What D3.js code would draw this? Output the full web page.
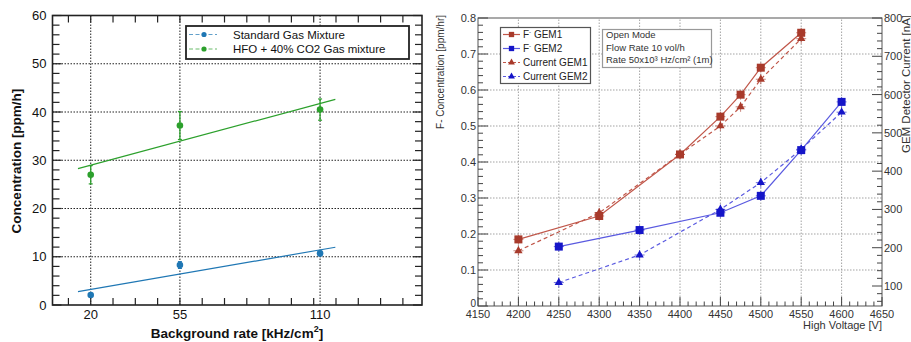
<!DOCTYPE html>
<html>
<head>
<meta charset="utf-8">
<script src="https://cdn.jsdelivr.net/npm/d3@7"></script>
<style>
  body { margin: 0; background: #fff; }
  svg { display: block; font-family: "Liberation Sans", Arial, Helvetica, sans-serif; }
</style>
</head>
<body>
<svg id="chart" width="911" height="342"></svg>
<script>
// ---- left panel data ----
var rateCats = [20, 55, 110];
var stdConc = [2.07, 8.28, 10.7];
var stdErr = [0.3, 0.7, 0.5];
var hfoConc = [27.0, 37.2, 40.5];
var hfoErr = [1.9, 2.9, 2.2];
var leftSeriesNames = ['Standard Gas Mixture', 'HFO + 40% CO2 Gas mixture'];
var leftYTicks = [0, 10, 20, 30, 40, 50, 60];

// ---- right panel data ----
var hvGem1 = [4200, 4300, 4400, 4450, 4475, 4500, 4550];
var fGem1 = [0.185, 0.25, 0.421, 0.526, 0.587, 0.662, 0.759];
var curGem1 = [192, 291, 444, 518, 568, 640, 746];
var hvGem2 = [4250, 4350, 4450, 4500, 4550, 4600];
var fGem2 = [0.165, 0.211, 0.259, 0.306, 0.433, 0.567];
var curGem2 = [109, 181, 300, 370, 457, 554];
var rightSeriesNames = ['GEM1', 'GEM2', 'Current GEM1', 'Current GEM2'];
var infoLines = ['Open Mode', 'Flow Rate 10 vol/h', 'Rate 50x10\u00b3 Hz/cm\u00b2 (1m)'];
var hvTicks = [4150, 4200, 4250, 4300, 4350, 4400, 4450, 4500, 4550, 4600, 4650];

var svg = d3.select('#chart');

// ===================== LEFT PANEL =====================
(function() {
	var blue = '#1f77b4', green = '#2ca02c';
	var x = d3.scaleLinear().domain([5, 150]).range([52.5, 422]);
	var y = d3.scaleLinear().domain([0, 60]).range([305, 15.5]);
	var g = svg.append('g');

	// grid
	g.selectAll('.gy').data(leftYTicks.slice(1, -1)).enter().append('line')
		.attr('x1', x.range()[0]).attr('x2', x.range()[1])
		.attr('y1', function(d) { return y(d); }).attr('y2', function(d) { return y(d); })
		.attr('stroke', '#222').attr('stroke-width', 1).attr('stroke-dasharray', '1.5,1.5');
	g.selectAll('.gx').data(rateCats).enter().append('line')
		.attr('y1', y.range()[0]).attr('y2', y.range()[1])
		.attr('x1', function(d) { return x(d); }).attr('x2', function(d) { return x(d); })
		.attr('stroke', '#222').attr('stroke-width', 1).attr('stroke-dasharray', '1.5,1.5');

	// ticks (inward, all four sides)
	var yMinor = d3.range(0, 61, 2);
	var xMinor = d3.range(11.25, 150, 8.75);
	var tickColor = '#222';
	yMinor.forEach(function(v) {
		var len = v % 10 === 0 ? 9 : 7;
		g.append('line').attr('x1', x.range()[0]).attr('x2', x.range()[0] + len)
			.attr('y1', y(v)).attr('y2', y(v)).attr('stroke', tickColor).attr('stroke-width', 1.2);
		g.append('line').attr('x1', x.range()[1]).attr('x2', x.range()[1] - len)
			.attr('y1', y(v)).attr('y2', y(v)).attr('stroke', tickColor).attr('stroke-width', 1.2);
	});
	xMinor.forEach(function(v) {
		g.append('line').attr('x1', x(v)).attr('x2', x(v))
			.attr('y1', y.range()[0]).attr('y2', y.range()[0] - 7).attr('stroke', tickColor).attr('stroke-width', 1.2);
		g.append('line').attr('x1', x(v)).attr('x2', x(v))
			.attr('y1', y.range()[1]).attr('y2', y.range()[1] + 7).attr('stroke', tickColor).attr('stroke-width', 1.2);
	});

	// frame
	g.append('rect').attr('x', x.range()[0]).attr('y', y.range()[1])
		.attr('width', x.range()[1] - x.range()[0]).attr('height', y.range()[0] - y.range()[1])
		.attr('fill', 'none').attr('stroke', '#222').attr('stroke-width', 1.6);

	// tick labels
	g.selectAll('.yl').data(leftYTicks).enter().append('text')
		.attr('x', 46.5).attr('y', function(d) { return y(d); })
		.attr('dy', '0.36em').attr('text-anchor', 'end')
		.attr('font-size', 13).attr('fill', '#111').text(function(d) { return d; });
	g.selectAll('.xl').data(rateCats).enter().append('text')
		.attr('x', function(d) { return x(d); }).attr('y', 319)
		.attr('text-anchor', 'middle').attr('font-size', 13).attr('fill', '#111')
		.text(function(d) { return d; });

	// axis titles
	var xt = g.append('text').attr('x', 237).attr('y', 338).attr('text-anchor', 'middle')
		.attr('font-size', 13.5).attr('font-weight', 'bold').attr('fill', '#111');
	xt.append('tspan').text('Background rate [kHz/cm');
	xt.append('tspan').attr('font-size', 9).attr('dy', -6).text('2');
	xt.append('tspan').attr('dy', 6).text(']');
	g.append('text').attr('transform', 'translate(21,161) rotate(-90)')
		.attr('text-anchor', 'middle').attr('font-size', 13.5).attr('font-weight', 'bold')
		.attr('fill', '#111').text('Concentration [ppm/h]');

	// fits (least squares on the data) and points
	function fit(xs, ys) {
		var mx = d3.mean(xs), my = d3.mean(ys);
		var sxy = d3.sum(xs, function(v, i) { return (v - mx) * (ys[i] - my); });
		var sxx = d3.sum(xs, function(v) { return (v - mx) * (v - mx); });
		var b = sxy / sxx;
		return { slope: b, intercept: my - b * mx };
	}
	var series = [
		{ vals: stdConc, err: stdErr, color: blue },
		{ vals: hfoConc, err: hfoErr, color: green }
	];
	series.forEach(function(s) {
		var f = fit(rateCats, s.vals);
		g.append('line')
			.attr('x1', x(15)).attr('y1', y(f.intercept + f.slope * 15))
			.attr('x2', x(116)).attr('y2', y(f.intercept + f.slope * 116))
			.attr('stroke', s.color).attr('stroke-width', 1.2);
		rateCats.forEach(function(c, i) {
			var v = s.vals[i], e = s.err[i];
			g.append('line').attr('x1', x(c)).attr('x2', x(c))
				.attr('y1', y(v - e)).attr('y2', y(v + e)).attr('stroke', s.color).attr('stroke-width', 1.3);
			[v - e, v + e].forEach(function(w) {
				g.append('line').attr('x1', x(c) - 2).attr('x2', x(c) + 2)
					.attr('y1', y(w)).attr('y2', y(w)).attr('stroke', s.color).attr('stroke-width', 1.2);
			});
			g.append('circle').attr('cx', x(c)).attr('cy', y(v)).attr('r', 3.3).attr('fill', s.color);
		});
	});

	// legend
	var lg = g.append('g');
	lg.append('rect').attr('x', 186).attr('y', 26).attr('width', 223).attr('height', 33)
		.attr('fill', '#fff').attr('stroke', '#222').attr('stroke-width', 1.8);
	[blue, green].forEach(function(c, i) {
		var yy = 34.5 + i * 14.5;
		lg.append('line').attr('x1', 189).attr('x2', 217).attr('y1', yy).attr('y2', yy)
			.attr('stroke', c).attr('stroke-opacity', 0.7).attr('stroke-width', 1.2).attr('stroke-dasharray', '4,2.5');
		lg.append('circle').attr('cx', 204).attr('cy', yy).attr('r', 2.6).attr('fill', c);
		lg.append('text').attr('x', 233).attr('y', yy).attr('dy', '0.36em')
			.attr('font-size', 11.5).attr('fill', '#111').text(leftSeriesNames[i]);
	});
})();

// ===================== RIGHT PANEL =====================
(function() {
	var red = '#a83a2b', redLine = '#c0574a', navy = '#1515c8', blueLine = '#5a5ae0';
	var x = d3.scaleLinear().domain([4150, 4650]).range([478, 882]);
	var y = d3.scaleLinear().domain([0, 0.8]).range([306, 18]);
	var y2 = d3.scaleLinear().domain([100, 800]).range([286, 18]);
	var g = svg.append('g');
	var textCol = '#333';

	// grid
	g.selectAll('.gx').data(hvTicks.slice(1, -1)).enter().append('line')
		.attr('x1', function(d) { return x(d); }).attr('x2', function(d) { return x(d); })
		.attr('y1', y(0)).attr('y2', y(0.8))
		.attr('stroke', '#999').attr('stroke-width', 0.9).attr('stroke-dasharray', '1.5,1.5');
	g.selectAll('.gy').data(d3.range(1, 8).map(function(k) { return k / 10; })).enter().append('line')
		.attr('x1', x(4150)).attr('x2', x(4650))
		.attr('y1', function(d) { return y(d); }).attr('y2', function(d) { return y(d); })
		.attr('stroke', '#999').attr('stroke-width', 0.9).attr('stroke-dasharray', '1.5,1.5');

	// frame
	g.append('rect').attr('x', x(4150)).attr('y', y(0.8))
		.attr('width', x(4650) - x(4150)).attr('height', y(0) - y(0.8))
		.attr('fill', 'none').attr('stroke', '#555').attr('stroke-width', 1);

	// left axis ticks
	d3.range(0, 41).forEach(function(k) {
		var v = k * 0.02, len = k % 5 === 0 ? 10 : 5;
		g.append('line').attr('x1', x(4150)).attr('x2', x(4150) + len)
			.attr('y1', y(v)).attr('y2', y(v)).attr('stroke', '#444').attr('stroke-width', 1);
	});
	// right axis ticks
	d3.range(60, 801, 20).forEach(function(v) {
		var len = v % 100 === 0 ? 10 : 5;
		g.append('line').attr('x1', x(4650)).attr('x2', x(4650) - len)
			.attr('y1', y2(v)).attr('y2', y2(v)).attr('stroke', '#444').attr('stroke-width', 1);
	});
	// bottom ticks
	d3.range(4150, 4651, 10).forEach(function(v) {
		var len = v % 50 === 0 ? 9 : 4.5;
		g.append('line').attr('x1', x(v)).attr('x2', x(v))
			.attr('y1', y(0)).attr('y2', y(0) - len).attr('stroke', '#444').attr('stroke-width', 1);
	});

	// tick labels
	g.selectAll('.yl').data(d3.range(0, 9).map(function(k) { return k / 10; })).enter().append('text')
		.attr('x', 476).attr('y', function(d) { return d === 0 ? y(d) - 3 : y(d); }).attr('dy', '0.36em')
		.attr('text-anchor', 'end').attr('font-size', function(d) { return d === 0 ? 10 : 11; })
		.attr('fill', textCol)
		.text(function(d) { return d === 0 ? '0' : d3.format('.1f')(d); });
	g.selectAll('.y2l').data(d3.range(100, 801, 100)).enter().append('text')
		.attr('x', 884).attr('y', function(d) { return y2(d); }).attr('dy', '0.36em')
		.attr('font-size', 11).attr('fill', textCol).text(function(d) { return d; });
	g.selectAll('.xl').data(hvTicks).enter().append('text')
		.attr('x', function(d) { return x(d); }).attr('y', 318)
		.attr('text-anchor', 'middle').attr('font-size', 11).attr('fill', textCol)
		.text(function(d) { return d; });

	// axis titles
	g.append('text').attr('x', 882).attr('y', 329).attr('text-anchor', 'end')
		.attr('font-size', 11).attr('fill', textCol).text('High Voltage [V]');
	g.append('text').attr('transform', 'translate(444,15) rotate(-90)')
		.attr('text-anchor', 'end').attr('font-size', 10).attr('fill', textCol)
		.text('F- Concentration [ppm/hr]');
	g.append('text').attr('transform', 'translate(910,15) rotate(-90)')
		.attr('text-anchor', 'end').attr('font-size', 11.5).attr('fill', textCol)
		.text('GEM Detector Current [nA]');

	var line = d3.line();
	var tri = d3.symbol().type(d3.symbolTriangle).size(30);
	var sq = d3.symbol().type(d3.symbolSquare).size(64);

	function draw(xs, vals, scale, color, markColor, dashed, sym) {
		var pts = xs.map(function(v, i) { return [x(v), scale(vals[i])]; });
		g.append('path').attr('d', line(pts)).attr('fill', 'none')
			.attr('stroke', color).attr('stroke-width', 1.2)
			.attr('stroke-dasharray', dashed ? '4,3' : null);
		pts.forEach(function(p) {
			// small error cross
			g.append('line').attr('x1', p[0] - 5).attr('x2', p[0] + 5).attr('y1', p[1]).attr('y2', p[1])
				.attr('stroke', markColor).attr('stroke-width', 1).attr('opacity', 0.6);
			g.append('line').attr('x1', p[0]).attr('x2', p[0]).attr('y1', p[1] - 5).attr('y2', p[1] + 5)
				.attr('stroke', markColor).attr('stroke-width', 1).attr('opacity', 0.6);
			g.append('path').attr('d', sym()).attr('transform', 'translate(' + p[0] + ',' + p[1] + ')')
				.attr('fill', markColor);
		});
	}
	draw(hvGem1, curGem1, y2, redLine, red, true, tri);
	draw(hvGem2, curGem2, y2, blueLine, navy, true, tri);
	draw(hvGem1, fGem1, y, redLine, red, false, sq);
	draw(hvGem2, fGem2, y, blueLine, navy, false, sq);

	// legend
	var lg = g.append('g');
	lg.append('rect').attr('x', 500.5).attr('y', 27.5).attr('width', 90).attr('height', 56)
		.attr('fill', '#fff').attr('stroke', '#555').attr('stroke-width', 1.2);
	var legendDefs = [
		[redLine, red, false, d3.symbol().type(d3.symbolSquare).size(28)],
		[blueLine, navy, false, d3.symbol().type(d3.symbolSquare).size(28)],
		[redLine, red, true, d3.symbol().type(d3.symbolTriangle).size(20)],
		[blueLine, navy, true, d3.symbol().type(d3.symbolTriangle).size(20)]
	];
	legendDefs.forEach(function(d, i) {
		var yy = 34.5 + i * 14;
		lg.append('line').attr('x1', 503).attr('x2', 520).attr('y1', yy).attr('y2', yy)
			.attr('stroke', d[0]).attr('stroke-width', 1.2).attr('stroke-dasharray', d[2] ? '3,2' : null);
		lg.append('path').attr('d', d[3]()).attr('transform', 'translate(511.5,' + yy + ')').attr('fill', d[1]);
		var t = lg.append('text').attr('x', 523).attr('y', yy).attr('dy', '0.36em')
			.attr('font-size', 10).attr('fill', '#222');
		if (i < 2) {
			t.append('tspan').text('F');
			t.append('tspan').attr('font-size', 6).attr('dy', -4).text('-');
			t.append('tspan').attr('dy', 4).text(' ' + rightSeriesNames[i]);
		} else {
			t.text(rightSeriesNames[i]);
		}
	});

	// info box
	var ib = g.append('g');
	ib.append('rect').attr('x', 602.5).attr('y', 29.5).attr('width', 109).attr('height', 38)
		.attr('fill', '#fff').attr('stroke', '#999').attr('stroke-width', 1.2);
	infoLines.forEach(function(s, i) {
		ib.append('text').attr('x', 606).attr('y', 35 + i * 12.5).attr('dy', '0.36em')
			.attr('font-size', 9.5).attr('fill', '#333').text(s);
	});
})();
</script>
</body>
</html>
